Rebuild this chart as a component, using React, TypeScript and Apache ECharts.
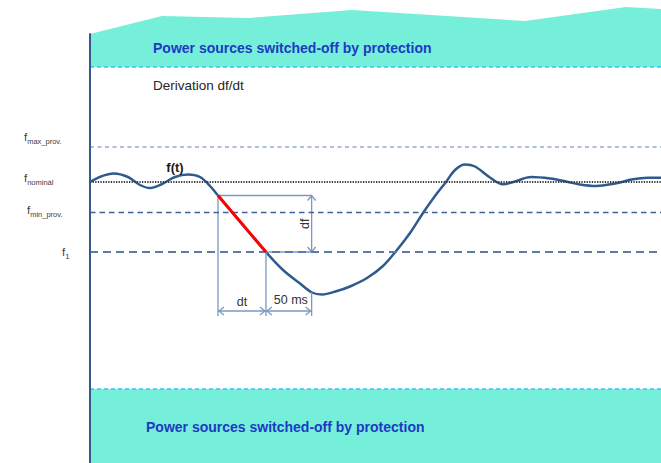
import { useEffect, useRef } from "react";
import * as echarts from "echarts";

// time axis in ms, frequency axis in Hz (schematic)
const T_MIN = 0;
const T_MAX = 625;
const F_LOW = 47.19;
const F_HIGH = 51.48;

const curveT = [0, 12, 26, 41.6, 54.7, 65.7, 78.8, 93, 107.3, 120.4, 131.4, 140.1, 192.6, 211.3, 229.9, 243, 253.9, 270.4, 284.6, 303.2, 320.7, 336, 350.3, 364.5, 377.6, 389.7, 399.5, 410.5, 421.4, 437.8, 452.1, 465.2, 482.7, 503.5, 522.1, 536.3, 553.9, 574.7, 594.4, 610.8, 625];
const curveF = [50.0, 50.055, 50.085, 50.05, 49.97, 49.94, 49.98, 50.05, 50.075, 50.05, 49.96, 49.865, 49.3, 49.12, 48.985, 48.895, 48.875, 48.91, 48.955, 49.04, 49.16, 49.32, 49.49, 49.69, 49.86, 50.0, 50.12, 50.175, 50.155, 50.045, 49.977, 50.005, 50.05, 50.035, 50.003, 49.975, 49.96, 49.985, 50.027, 50.042, 50.043];

const redT = [140.1, 192.6];
const redF = [49.865, 49.3];

const topEdgeT = [0, 78.8, 174, 286.8, 476.1, 586.7, 625];
const topEdgeF = [51.48, 51.66, 51.64, 51.72, 51.61, 51.75, 51.73];
const TOP_BAND_LOW = 51.15;
const BOTTOM_BAND_HIGH = 47.93;

const F_MAX_PROV = 50.35;
const F_NOMINAL = 50.0;
const F_MIN_PROV = 49.7;
const F_1 = 49.3;

const levelLabelValues = [50.45, 50.04, 49.72, 49.3];
const levelLabels = ["{a|f}{s|max_prov.}", "{a|f}{s|nominál}", "{p3|}{a|f}{s|min_prov.}", "{p38|}{a|f}{n|1}"];

const DELAY_MS = 50;
const F_ARROW = 48.71;
const F_DROP = 48.66;
const F_CURVE_AT_END = 48.9;

const bandTitle = "Power sources switched-off by protection";
const derivTitle = "Derivation df/dt";

const FONT = '"Liberation Sans", Arial, sans-serif';
const LABEL = "#404040";
const BAND = "#75EFD9";
const BAND_EDGE = "#35C6EE";
const ANNOT = "#7D98C0";

export default function App() {
  const ref = useRef<HTMLDivElement>(null);
  useEffect(() => {
    const chart = echarts.init(ref.current!, null, { renderer: "svg" });
    const t1 = redT[0];
    const t2 = redT[1];
    const t3 = t2 + DELAY_MS;
    const fTop = redF[0];

    const option: any = {
      animation: false,
      grid: { left: 90, right: 0, top: 34, bottom: 0 },
      xAxis: { type: "value", min: T_MIN, max: T_MAX, show: false },
      yAxis: {
        type: "value",
        min: F_LOW,
        max: F_HIGH,
        z: 10,
        axisLine: { show: true, lineStyle: { color: "#35588F", width: 2 } },
        axisTick: { show: false },
        splitLine: { show: false },
        axisLabel: {
          customValues: levelLabelValues,
          align: "left",
          margin: 66,
          formatter: (v: number) => {
            const i = levelLabelValues.findIndex((x) => Math.abs(x - v) < 1e-6);
            return i >= 0 ? levelLabels[i] : "";
          },
          rich: {
            a: { fontSize: 11.5, color: LABEL, fontFamily: FONT, lineHeight: 14 },
            s: { fontSize: 7.5, color: LABEL, fontFamily: FONT, lineHeight: 9, padding: [9, 0, 0, 0] },
            n: { fontSize: 8, color: LABEL, fontFamily: FONT, lineHeight: 9, padding: [9, 0, 0, 0] },
            p3: { width: 3 },
            p38: { width: 38 },
          },
        },
      },
      series: [
        {
          type: "custom",
          z: 1,
          silent: true,
          data: [[T_MIN, F_NOMINAL]],
          renderItem: (params: any, api: any) => {
            if (params.dataIndex !== 0) return null;
            const top = topEdgeT.map((t, i) => api.coord([t, topEdgeF[i]]));
            top.push(api.coord([T_MAX, TOP_BAND_LOW]));
            top.push(api.coord([T_MIN, TOP_BAND_LOW]));
            const bottom = [
              api.coord([T_MIN, BOTTOM_BAND_HIGH]),
              api.coord([T_MAX, BOTTOM_BAND_HIGH]),
              api.coord([T_MAX, F_LOW]),
              api.coord([T_MIN, F_LOW]),
            ];
            return {
              type: "group",
              children: [
                { type: "polygon", shape: { points: top }, style: { fill: BAND } },
                { type: "polygon", shape: { points: bottom }, style: { fill: BAND } },
              ],
            };
          },
        },
        {
          type: "line",
          data: [],
          z: 2,
          silent: true,
          markLine: {
            silent: true,
            symbol: ["none", "none"],
            label: { show: false },
            data: [
              { yAxis: TOP_BAND_LOW, lineStyle: { color: BAND_EDGE, width: 1.5, type: [4, 3] } },
              { yAxis: BOTTOM_BAND_HIGH, lineStyle: { color: BAND_EDGE, width: 1.5, type: [4, 3] } },
              { yAxis: F_MAX_PROV, lineStyle: { color: "#94ABC9", width: 1.5, type: [4, 3.5] } },
              { yAxis: F_NOMINAL, lineStyle: { color: "#3a3a3a", width: 2, type: [1.3, 1.3] } },
              { yAxis: F_MIN_PROV, lineStyle: { color: "#3F6399", width: 1.3, type: [5.5, 4] } },
              { yAxis: F_1, lineStyle: { color: "#5B7AA8", width: 2, type: [8, 5] } },
            ],
          },
        },
        {
          type: "line",
          name: "f(t)",
          z: 3,
          smooth: 0.35,
          symbol: "none",
          silent: true,
          lineStyle: { color: "#2F5A8E", width: 2.5 },
          data: curveT.map((t, i) => [t, curveF[i]]),
        },
        {
          type: "custom",
          z: 4,
          silent: true,
          data: [[t1, fTop]],
          renderItem: (params: any, api: any) => {
            if (params.dataIndex !== 0) return null;
            const [x1, yTop] = api.coord([t1, fTop]);
            const [x2, yF1] = api.coord([t2, F_1]);
            const [x3] = api.coord([t3, F_1]);
            const yArrow = api.coord([t1, F_ARROW])[1];
            const yDrop = api.coord([t1, F_DROP])[1];
            const yCurve = api.coord([t3, F_CURVE_AT_END])[1];
            const ls = { stroke: ANNOT, lineWidth: 1.3, fill: null };
            const ln = (a: number, b: number, c: number, d: number) => ({
              type: "line",
              shape: { x1: a, y1: b, x2: c, y2: d },
              style: ls,
            });
            const chev = (x: number, y: number, dir: string) => {
              const L = 5, W = 4;
              let pts: number[][];
              if (dir === "l") pts = [[x + L, y - W], [x, y], [x + L, y + W]];
              else if (dir === "r") pts = [[x - L, y - W], [x, y], [x - L, y + W]];
              else if (dir === "u") pts = [[x - W, y + L], [x, y], [x + W, y + L]];
              else pts = [[x - W, y - L], [x, y], [x + W, y - L]];
              return { type: "polyline", shape: { points: pts }, style: ls };
            };
            const txt = (x: number, y: number, text: string, rot = 0) => ({
              type: "text",
              x,
              y,
              rotation: rot,
              style: { text, fontSize: 12.5, fontFamily: FONT, fill: "#333333", align: "center", verticalAlign: "middle" },
            });
            return {
              type: "group",
              children: [
                ln(x1, yTop, x3, yTop),
                ln(x1, yTop, x1, yDrop),
                ln(x2, yF1, x3, yF1),
                ln(x2, yF1, x2, yDrop),
                ln(x3, yCurve, x3, yDrop),
                ln(x3, yTop, x3, yF1),
                chev(x3, yTop, "u"),
                chev(x3, yF1, "d"),
                ln(x1, yArrow, x2, yArrow),
                chev(x1 + 1, yArrow, "l"),
                chev(x2 - 1, yArrow, "r"),
                ln(x2, yArrow, x3, yArrow),
                chev(x2 + 1, yArrow, "l"),
                chev(x3 - 1, yArrow, "r"),
                txt((x1 + x2) / 2, yArrow - 9, "dt"),
                txt((x2 + x3) / 2 + 2, yArrow - 11, "50 ms"),
                txt(x3 - 7, (yTop + yF1) / 2, "df", Math.PI / 2),
              ],
            };
          },
        },
        {
          type: "line",
          z: 5,
          symbol: "none",
          silent: true,
          lineStyle: { color: "#FF0000", width: 3 },
          data: redT.map((t, i) => [t, redF[i]]),
        },
      ],
      graphic: [
        { type: "text", z: 100, x: 153, y: 48, style: { text: bandTitle, fontSize: 14, fontWeight: "bold", fontFamily: FONT, fill: "#1E39C3", verticalAlign: "middle" } },
        { type: "text", z: 100, x: 146, y: 427, style: { text: bandTitle, fontSize: 14, fontWeight: "bold", fontFamily: FONT, fill: "#1E39C3", verticalAlign: "middle" } },
        { type: "text", z: 100, x: 153, y: 85, style: { text: derivTitle, fontSize: 13.5, fontFamily: FONT, fill: "#262626", verticalAlign: "middle" } },
        { type: "text", z: 100, x: 175, y: 167, style: { text: "f(t)", fontSize: 13, fontWeight: "bold", fontFamily: FONT, fill: "#1a1a1a", align: "center", verticalAlign: "middle" } },
      ],
    };
    chart.setOption(option);
    return () => chart.dispose();
  }, []);
  return <div ref={ref} style={{ position: "absolute", left: 0, top: 0, width: 661, height: 463 }} />;
}
